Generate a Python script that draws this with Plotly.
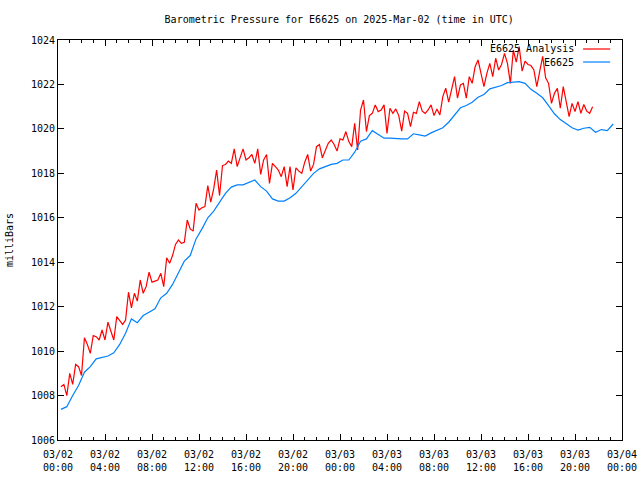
import numpy as np
import pandas as pd
import plotly.graph_objects as go

# ---- data ----
station_values = [
    1007.38, 1007.5, 1008.0, 1008.45,
    1009.05, 1009.3, 1009.65, 1009.72,
    1009.78, 1009.92, 1010.3, 1010.8,
    1011.45, 1011.28, 1011.6, 1011.75,
    1011.9, 1012.4, 1012.6, 1013.0,
    1013.55, 1014.05, 1014.3, 1015.05,
    1015.5, 1016.0, 1016.3, 1016.7,
    1017.1, 1017.38, 1017.48, 1017.48,
    1017.6, 1017.7, 1017.4, 1017.2,
    1016.85, 1016.75, 1016.75, 1016.9,
    1017.1, 1017.4, 1017.65, 1018.0,
    1018.2, 1018.3, 1018.4, 1018.45,
    1018.6, 1018.6, 1018.95, 1019.45,
    1019.55, 1019.92, 1019.75, 1019.58,
    1019.58, 1019.55, 1019.55, 1019.55,
    1019.78, 1019.73, 1019.68, 1019.82,
    1019.95, 1020.05, 1020.3, 1020.65,
    1020.95, 1021.05, 1021.2, 1021.42,
    1021.55, 1021.8, 1021.88, 1021.95,
    1022.08, 1022.12, 1022.13, 1022.05,
    1021.78, 1021.6, 1021.4, 1021.05,
    1020.68, 1020.42, 1020.22, 1020.05,
    1019.95, 1020.03, 1020.07, 1019.85,
    1019.97, 1019.92, 1020.22,
]
station_start_h = 0.25
station_step_h = 0.5

analysis_values = [
    1008.4, 1008.5, 1008.0, 1009.0,
    1008.5, 1009.4, 1009.3, 1008.9,
    1010.6, 1010.3, 1009.9, 1010.7,
    1010.65, 1010.5, 1010.95, 1010.5,
    1011.3, 1010.9, 1010.5, 1011.55,
    1011.4, 1011.2, 1011.4, 1012.65,
    1011.95, 1012.6, 1012.25, 1013.2,
    1012.6, 1012.9, 1013.55, 1013.1,
    1013.15, 1013.2, 1013.5, 1012.9,
    1014.2, 1013.95, 1014.3, 1014.8,
    1015.0, 1014.85, 1014.9, 1015.9,
    1015.5, 1015.4, 1016.65, 1016.35,
    1016.45, 1016.5, 1017.45, 1016.7,
    1017.3, 1018.15, 1017.0, 1018.35,
    1018.4, 1018.55, 1018.45, 1019.1,
    1018.3, 1018.75, 1019.1, 1018.6,
    1018.7, 1018.85, 1018.45, 1019.1,
    1017.95, 1018.6, 1018.85, 1017.55,
    1018.45, 1018.3, 1018.15, 1017.85,
    1018.3, 1017.4, 1018.3, 1017.25,
    1018.25, 1018.1, 1018.0, 1018.5,
    1018.85, 1018.1, 1018.4, 1019.2,
    1019.3, 1018.7, 1019.0, 1019.35,
    1019.5, 1019.3, 1019.0, 1019.55,
    1019.5, 1019.88, 1019.43, 1019.2,
    1020.25, 1019.05, 1020.85, 1021.3,
    1019.88, 1020.6, 1020.7, 1021.08,
    1020.78, 1020.85, 1021.08, 1019.8,
    1020.93, 1020.7, 1020.9, 1020.6,
    1019.9, 1020.8, 1020.7, 1020.1,
    1020.75, 1020.7, 1021.23, 1020.8,
    1020.7, 1020.85, 1021.08, 1020.6,
    1020.9, 1020.63, 1021.45, 1021.83,
    1021.2, 1021.75, 1022.35, 1021.38,
    1021.98, 1022.05, 1021.38, 1022.35,
    1022.05, 1022.8, 1023.1, 1022.5,
    1021.9, 1022.5, 1022.95, 1022.35,
    1023.18, 1022.65, 1022.9, 1023.4,
    1022.95, 1022.05, 1023.55, 1023.0,
    1023.7, 1022.6, 1023.05, 1022.9,
    1022.85, 1022.65, 1021.9, 1022.6,
    1023.26, 1022.3, 1022.05, 1021.15,
    1021.6, 1021.83, 1020.93, 1021.9,
    1021.3, 1020.55, 1021.15, 1020.78,
    1021.23, 1020.7, 1021.1, 1020.8,
    1020.7, 1021.0,
]
analysis_start_h = 0.25
analysis_step_h = 0.25

base_time = pd.Timestamp("2025-03-02 00:00")
end_time = base_time + pd.Timedelta(hours=48)
x_station = base_time + pd.to_timedelta(
    station_start_h + station_step_h * np.arange(len(station_values)), unit="h")
x_analysis = base_time + pd.to_timedelta(
    analysis_start_h + analysis_step_h * np.arange(len(analysis_values)), unit="h")

series_names = ["E6625 Analysis", "E6625"]
series_colors = ["#ff0000", "#0080ff"]

FONT = "DejaVu Sans Mono"
HOUR_MS = 3600 * 1000

fig = go.Figure()
fig.add_trace(go.Scatter(x=x_analysis, y=analysis_values, mode="lines",
                         name=series_names[0],
                         line=dict(color=series_colors[0], width=1.2),
                         showlegend=False))
fig.add_trace(go.Scatter(x=x_station, y=station_values, mode="lines",
                         name=series_names[1],
                         line=dict(color=series_colors[1], width=1.2),
                         showlegend=False))

# gnuplot-style key: right-aligned text, line sample to the right
key_rows_y = [0.9775, 0.945]
for name, color, yk in zip(series_names, series_colors, key_rows_y):
    fig.add_annotation(x=0.918, y=yk, xref="paper", yref="paper",
                       text=name, showarrow=False, xanchor="right",
                       yanchor="middle", font=dict(family=FONT, size=10, color="black"))
    fig.add_shape(type="line", xref="paper", yref="paper",
                  x0=0.931, x1=0.979, y0=yk, y1=yk,
                  line=dict(color=color, width=1.2))

fig.update_layout(
    template="none",
    width=640, height=480,
    margin=dict(l=58, r=18, t=40, b=40, autoexpand=False),
    paper_bgcolor="white", plot_bgcolor="white",
    font=dict(family=FONT, size=10, color="black"),
    title=dict(text="Barometric Pressure for E6625 on 2025-Mar-02 (time in UTC)",
               x=0.53, xanchor="center", y=1 - 19 / 480, yref="container",
               yanchor="middle", font=dict(family=FONT, size=10, color="black")),
    xaxis=dict(
        type="date", automargin=False,
        range=[base_time, end_time],
        dtick=4 * HOUR_MS, tick0=base_time,
        tickformat="%m/%d<br>%H:%M",
        ticks="inside", ticklen=6, tickcolor="#000000", tickwidth=1,
        minor=dict(dtick=HOUR_MS, ticks="inside", ticklen=3,
                   tickcolor="#000000", tickwidth=1, showgrid=False),
        showline=True, linecolor="black", linewidth=1, mirror="ticks",
        showgrid=False, zeroline=False,
        ticklabelstandoff=5,
    ),
    yaxis=dict(
        automargin=False,
        range=[1006, 1024], dtick=2, tick0=1006,
        ticks="inside", ticklen=6, tickcolor="#000000", tickwidth=1,
        showline=True, linecolor="black", linewidth=1, mirror="ticks",
        showgrid=False, zeroline=False,
        title=dict(text="milliBars", font=dict(family=FONT, size=10), standoff=15),
    ),
)

fig.write_html("out.html",
               config={"displayModeBar": False},
               post_script="document.body.style.margin='0';"
               "document.body.style.padding='0';")
